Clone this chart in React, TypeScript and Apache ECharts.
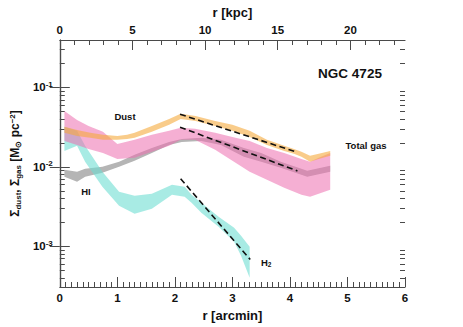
import React, { useEffect, useRef } from 'react';
import * as echarts from 'echarts';

// ---- data (r in arcmin, surface densities in Msun/pc^2) ----
const dustR = [0.08, 0.3, 0.53, 0.75, 1.0, 1.17, 1.3, 1.6, 1.9, 2.1, 2.36, 2.7, 3.0, 3.3, 3.6, 3.9, 4.07, 4.2, 4.35, 4.5, 4.7];
const dustUpper = [0.0319, 0.0292, 0.0268, 0.0253, 0.0245, 0.0253, 0.0268, 0.0328, 0.0402, 0.0465, 0.0438, 0.0379, 0.0338, 0.0284, 0.0219, 0.0184, 0.0168, 0.0155, 0.0138, 0.0146, 0.0159];
const dustLower = [0.0268, 0.0245, 0.0232, 0.0219, 0.0219, 0.0225, 0.0232, 0.0276, 0.0338, 0.0402, 0.0379, 0.0328, 0.0284, 0.0238, 0.0189, 0.0159, 0.0146, 0.0134, 0.0116, 0.0126, 0.0138];

const gasR = [0.08, 0.3, 0.5, 0.75, 1.0, 1.3, 1.6, 1.9, 2.1, 2.35, 2.7, 3.0, 3.3, 3.6, 3.9, 4.2, 4.35, 4.5, 4.7];
const gasUpper = [0.0506, 0.039, 0.0328, 0.0276, 0.0194, 0.0219, 0.0253, 0.0284, 0.031, 0.0301, 0.0268, 0.0238, 0.0212, 0.0173, 0.015, 0.0126, 0.0116, 0.013, 0.015];
const gasLower = [0.0212, 0.0189, 0.0168, 0.015, 0.0126, 0.013, 0.0155, 0.0184, 0.0219, 0.0219, 0.0164, 0.0119, 0.00865, 0.00686, 0.00545, 0.00445, 0.0042, 0.00457, 0.00514];

const hiR = [0.08, 0.3, 0.44, 0.74, 1.03, 1.3, 1.6, 1.9, 2.12, 2.46, 2.8, 3.2, 3.5, 3.84, 4.3, 4.7];
const hiUpper = [0.00917, 0.00865, 0.00944, 0.01, 0.0116, 0.0142, 0.0173, 0.0206, 0.0225, 0.0232, 0.0219, 0.0173, 0.015, 0.0116, 0.00891, 0.0103];
const hiLower = [0.00749, 0.00648, 0.00749, 0.00841, 0.01, 0.0119, 0.015, 0.0189, 0.0206, 0.0212, 0.0189, 0.0134, 0.0116, 0.00972, 0.00749, 0.00865];

const h2R = [0.08, 0.3, 0.44, 0.74, 1.03, 1.3, 1.6, 1.95, 2.17, 2.29, 2.46, 2.76, 3.03, 3.15, 3.3];
const h2Upper = [0.0319, 0.0284, 0.0184, 0.00865, 0.00485, 0.00432, 0.00457, 0.00594, 0.0056, 0.00445, 0.00353, 0.00235, 0.00171, 0.00136, 0.000986];
const h2Lower = [0.0159, 0.0184, 0.0116, 0.0056, 0.00323, 0.00256, 0.00296, 0.00445, 0.0042, 0.00353, 0.00264, 0.00176, 0.00114, 0.000759, 0.000402];

// exponential fits (dashed)
const dustFitR = [2.09, 4.1];
const dustFit = [0.046, 0.0155];
const gasFitR = [2.09, 4.13];
const gasFit = [0.0316, 0.0089];
const h2FitR = [2.1, 3.31];
const h2Fit = [0.0071, 0.00068];

// axes
const arcminMin = 0;
const arcminMax = 6;
const kpcMax = 23.76;
const kpcMajorTicks = [0, 5, 10, 15, 20];
const kpcMinorTicks = [1, 2, 3, 4, 6, 7, 8, 9, 11, 12, 13, 14, 16, 17, 18, 19, 21, 22, 23];
const yMin = 0.000307;
const yMax = 0.396;
const yMajorTicks = [0.001, 0.01, 0.1];
const yMinorTicks = [
  0.0004, 0.0005, 0.0006, 0.0007, 0.0008, 0.0009,
  0.002, 0.003, 0.004, 0.005, 0.006, 0.007, 0.008, 0.009,
  0.02, 0.03, 0.04, 0.05, 0.06, 0.07, 0.08, 0.09,
  0.2, 0.3,
];

const FONT = '"Liberation Sans", Arial, Helvetica, sans-serif';
const AX = '#4a4a4a';
const TXT = '#111';

function band(name: string, r: number[], lo: number[], hi: number[], color: string, z: number) {
  return {
    type: 'custom',
    name,
    xAxisIndex: 0,
    yAxisIndex: 0,
    z,
    clip: true,
    silent: true,
    data: [[r[0], hi[0]]],
    renderItem: (_params: any, api: any) => {
      const pts: number[][] = [];
      for (let i = 0; i < r.length; i++) pts.push(api.coord([r[i], hi[i]]));
      for (let i = r.length - 1; i >= 0; i--) pts.push(api.coord([r[i], lo[i]]));
      return { type: 'polygon', shape: { points: pts }, style: { fill: color, stroke: 'none' } };
    },
  };
}

function fit(r: number[], v: number[]) {
  return {
    type: 'line',
    xAxisIndex: 0,
    yAxisIndex: 0,
    z: 10,
    symbol: 'none',
    silent: true,
    data: r.map((x, i) => [x, v[i]]),
    lineStyle: { color: '#111', width: 1.6, type: [6, 3.5] },
  };
}

const baseLine = { show: true, lineStyle: { color: AX, width: 1.2 } };
const noLine = { show: false };

function yAxis(position: string, major: boolean, labels: boolean) {
  return {
    type: 'log',
    position,
    min: yMin,
    max: yMax,
    axisLine: major ? baseLine : noLine,
    splitLine: { show: false },
    axisTick: {
      show: true,
      inside: true,
      length: major ? 10 : 5,
      customValues: major ? yMajorTicks : yMinorTicks,
      lineStyle: { color: AX, width: 1 },
    },
    axisLabel: labels
      ? {
          show: true,
          customValues: yMajorTicks,
          margin: 7,
          formatter: (v: number) => `{b|10}{s|${Math.round(Math.log10(v))}}`,
          rich: {
            b: { fontSize: 11.5, fontWeight: 'bold', fontFamily: FONT, color: TXT },
            s: { fontSize: 8, fontWeight: 'bold', fontFamily: FONT, color: TXT, verticalAlign: 'top', padding: [0, 0, 6, 0] },
          },
        }
      : { show: false },
    ...(labels
      ? {
          name: '{m|Σ}{sub|dust}{m|, Σ}{sub|gas}{m| [M}{sub|⊙}{m| pc}{sup|−2}{m|]}',
          nameLocation: 'middle',
          nameRotate: 90,
          nameGap: 37,
          nameTextStyle: {
            rich: {
              m: { fontSize: 12, fontWeight: 'bold', fontFamily: FONT, color: TXT },
              sub: { fontSize: 8, fontWeight: 'bold', fontFamily: FONT, color: TXT, verticalAlign: 'bottom', padding: [6, 0, 0, 0] },
              sup: { fontSize: 8, fontWeight: 'bold', fontFamily: FONT, color: TXT, verticalAlign: 'top', padding: [0, 0, 6, 0] },
            },
          },
        }
      : {}),
  };
}

const option: any = {
  animation: false,
  backgroundColor: '#fff',
  grid: { left: 57, right: 58, top: 40, bottom: 40, containLabel: false },
  xAxis: [
    {
      type: 'value',
      position: 'bottom',
      min: arcminMin,
      max: arcminMax,
      interval: 1,
      axisLine: baseLine,
      splitLine: { show: false },
      axisTick: { show: true, inside: true, length: 10, lineStyle: { color: AX, width: 1 } },
      minorTick: { show: true, splitNumber: 10, length: 5, lineStyle: { color: AX, width: 1 } },
      minorSplitLine: { show: false },
      axisLabel: { margin: 5, fontSize: 11.5, fontWeight: 'bold', fontFamily: FONT, color: TXT },
      name: 'r [arcmin]',
      nameLocation: 'middle',
      nameGap: 18,
      nameTextStyle: { fontSize: 13, fontWeight: 'bold', fontFamily: FONT, color: TXT, verticalAlign: 'top' },
    },
    {
      type: 'value',
      position: 'top',
      min: 0,
      max: kpcMax,
      axisLine: baseLine,
      splitLine: { show: false },
      axisTick: { show: true, inside: true, length: 10, customValues: kpcMajorTicks, lineStyle: { color: AX, width: 1 } },
      axisLabel: { show: true, customValues: kpcMajorTicks, margin: 4, fontSize: 11.5, fontWeight: 'bold', fontFamily: FONT, color: TXT },
      name: 'r [kpc]',
      nameLocation: 'middle',
      nameGap: 15,
      nameTextStyle: { fontSize: 13, fontWeight: 'bold', fontFamily: FONT, color: TXT, verticalAlign: 'bottom' },
    },
    {
      type: 'value',
      position: 'top',
      min: 0,
      max: kpcMax,
      axisLine: noLine,
      splitLine: { show: false },
      axisTick: { show: true, inside: true, length: 5, customValues: kpcMinorTicks, lineStyle: { color: AX, width: 1 } },
      axisLabel: { show: false },
    },
  ],
  yAxis: [
    yAxis('left', true, true),
    yAxis('left', false, false),
    yAxis('right', true, false),
    yAxis('right', false, false),
  ],
  series: [
    band('HI', hiR, hiLower, hiUpper, '#b5b5b5', 1),
    band('H2', h2R, h2Lower, h2Upper, 'rgba(110,222,210,0.6)', 2),
    band('Total gas', gasR, gasLower, gasUpper, 'rgba(236,110,175,0.55)', 3),
    band('Dust', dustR, dustLower, dustUpper, 'rgba(245,170,60,0.6)', 4),
    fit(dustFitR, dustFit),
    fit(gasFitR, gasFit),
    fit(h2FitR, h2Fit),
  ],
  graphic: [
    { type: 'text', x: 125, y: 116, z: 20, style: { text: 'Dust', align: 'center', verticalAlign: 'middle', fontSize: 9.5, fontWeight: 'bold', fontFamily: FONT, fill: TXT } },
    { type: 'text', x: 86, y: 191, z: 20, style: { text: 'HI', align: 'center', verticalAlign: 'middle', fontSize: 9.5, fontWeight: 'bold', fontFamily: FONT, fill: TXT } },
    { type: 'text', x: 366, y: 145.5, z: 20, style: { text: 'Total gas', align: 'center', verticalAlign: 'middle', fontSize: 9.5, fontWeight: 'bold', fontFamily: FONT, fill: TXT } },
    {
      type: 'text', x: 261, y: 262, z: 20,
      style: {
        text: '{a|H}{b|2}', align: 'left', verticalAlign: 'middle',
        rich: {
          a: { fontSize: 9.5, fontWeight: 'bold', fontFamily: FONT, fill: TXT, color: TXT },
          b: { fontSize: 6.5, fontWeight: 'bold', fontFamily: FONT, fill: TXT, color: TXT, verticalAlign: 'bottom', padding: [4, 0, 0, 0] },
        },
      },
    },
    { type: 'text', x: 350, y: 73, z: 20, style: { text: 'NGC 4725', align: 'center', verticalAlign: 'middle', fontSize: 13.5, fontWeight: 'bold', fontFamily: FONT, fill: TXT } },
  ],
};

export default function App() {
  const ref = useRef<HTMLDivElement>(null);
  useEffect(() => {
    document.body.style.margin = '0';
    const chart = echarts.init(ref.current!, null, { renderer: 'svg' });
    chart.setOption(option);
    return () => chart.dispose();
  }, []);
  return <div ref={ref} style={{ width: 463, height: 327 }} />;
}
